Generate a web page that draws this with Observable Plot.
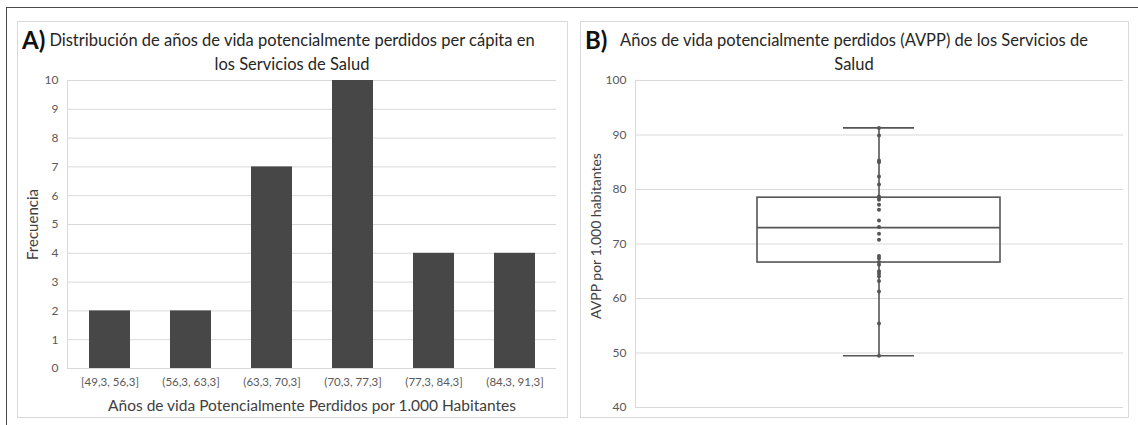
<!DOCTYPE html>
<html>
<head>
<meta charset="utf-8">
<script src="https://cdn.jsdelivr.net/npm/d3@7"></script>
<script src="https://cdn.jsdelivr.net/npm/@observablehq/plot@0.6"></script>
<style>
  html, body { margin: 0; padding: 0; background: #fff; }
  body { width: 1138px; height: 425px; position: relative; overflow: hidden; font-family: Lato, "Open Sans", sans-serif; }
  .outer { position: absolute; left: 6px; top: 7px; width: 1140px; height: 430px; border-top: 1.5px solid #4a4a4a; border-left: 1.5px solid #4a4a4a; }
  .frame { position: absolute; border: 1px solid #d9d9d9; box-sizing: border-box; }
  .abs { position: absolute; }
  .letter { position: absolute; font-weight: bold; font-size: 24px; line-height: 26px; color: #111; }
  .title { position: absolute; font-size: 16.5px; line-height: 24px; text-align: center; color: #262626; white-space: nowrap; }
</style>
</head>
<body>
<div class="outer"></div>
<div class="frame" style="left:17px; top:21px; width:551px; height:397px;"></div>
<div class="frame" style="left:580px; top:21px; width:549px; height:397px;"></div>
<div id="plotA" class="abs" style="left:0; top:0;"></div>
<div id="plotB" class="abs" style="left:570px; top:0;"></div>
<div class="letter" style="left:22px; top:27px;">A)</div>
<div class="title" style="left:46px; top:28px; width:492px;">Distribución de años de vida potencialmente perdidos per cápita en<br>los Servicios de Salud</div>
<div class="letter" style="left:585px; top:27px;">B)</div>
<div class="title" style="left:620px; top:28px; width:468px;">Años de vida potencialmente perdidos (AVPP) de los Servicios de<br>Salud</div>
<script>
// ---- Data ----
const bins = ["[49,3, 56,3]", "(56,3, 63,3]", "(63,3, 70,3]", "(70,3, 77,3]", "(77,3, 84,3]", "(84,3, 91,3]"];
const frequencies = [2, 2, 7, 10, 4, 4];
const freqTicks = [0, 1, 2, 3, 4, 5, 6, 7, 8, 9, 10];

const avppTicks = [40, 50, 60, 70, 80, 90, 100];
const avppValues = [91.3, 89.9, 85.3, 85.0, 82.4, 80.9, 78.7, 78.5, 78.1, 77.2, 76.3, 74.3, 73.1,
  71.9, 70.8, 67.8, 67.4, 66.7, 66.2, 65.0, 64.6, 64.1, 63.2, 61.3, 55.4, 49.5];
const boxNames = ["min", "q1", "median", "q3", "max"];
const boxValues = [49.5, 66.6, 73.0, 78.5, 91.3];
const groupName = "AVPP";

// ---- Derived tables ----
const histData = bins.map((b, i) => ({bin: b, freq: frequencies[i]}));
const summary = [Object.fromEntries([["name", groupName], ...boxNames.map((n, i) => [n, boxValues[i]])])];

const grid = "#d9d9d9";
const textColor = "#595959";
const axisTitle = "#404040";

// ---- Panel A: histogram ----
const plotA = Plot.plot({
  width: 570,
  height: 425,
  marginLeft: 67,
  marginRight: 14,
  marginTop: 80,
  marginBottom: 57,
  style: {fontFamily: "Lato, 'Open Sans', sans-serif", fontSize: "12px", color: textColor, background: "transparent"},
  x: {domain: bins, paddingInner: 0.5, paddingOuter: 0.25},
  y: {domain: [0, 10]},
  marks: [
    Plot.gridY(freqTicks, {stroke: grid, strokeOpacity: 1}),
    Plot.frame({anchor: "left", stroke: grid}),
    Plot.barY(histData, {x: "bin", y: "freq", fill: "#474747"}),
    Plot.axisX({tickSize: 0, tickPadding: 9, fontSize: 11.5, label: "Años de vida Potencialmente Perdidos por 1.000 Habitantes", labelAnchor: "center", labelArrow: "none", labelOffset: 42}),
    Plot.axisY(freqTicks, {tickSize: 0, tickPadding: 9, fontSize: 12, label: "Frecuencia", labelAnchor: "center", labelArrow: "none", labelOffset: 40})
  ]
});
document.getElementById("plotA").appendChild(plotA);

// ---- Panel B: box plot ----
const plotB = Plot.plot({
  width: 568,
  height: 425,
  marginLeft: 65,
  marginRight: 15,
  marginTop: 80,
  marginBottom: 18,
  style: {fontFamily: "Lato, 'Open Sans', sans-serif", fontSize: "12px", color: textColor, background: "transparent"},
  x: {domain: [groupName], padding: 1 / 3, axis: null},
  y: {domain: [40, 100]},
  marks: [
    Plot.gridY(avppTicks, {stroke: grid, strokeOpacity: 1}),
    Plot.frame({anchor: "left", stroke: grid}),
    Plot.ruleX(summary, {x: "name", y1: "max", y2: "q3", stroke: "#555", strokeWidth: 1.6}),
    Plot.ruleX(summary, {x: "name", y1: "q1", y2: "min", stroke: "#555", strokeWidth: 1.6}),
    Plot.tickY(summary, {x: "name", y: "max", stroke: "#555", strokeWidth: 1.6, insetLeft: 86, insetRight: 86}),
    Plot.tickY(summary, {x: "name", y: "min", stroke: "#555", strokeWidth: 1.6, insetLeft: 86, insetRight: 86}),
    Plot.barY(summary, {x: "name", y1: "q1", y2: "q3", fill: "none", stroke: "#555", strokeWidth: 1.6}),
    Plot.tickY(summary, {x: "name", y: "median", stroke: "#555", strokeWidth: 1.6}),
    Plot.dot(avppValues, {x: () => groupName, y: d => d, r: 2, fill: "#555", stroke: "none"}),
    Plot.axisY(avppTicks, {tickSize: 0, tickPadding: 9, fontSize: 12, label: "AVPP por 1.000 habitantes", labelAnchor: "center", labelArrow: "none", labelOffset: 44})
  ]
});
document.getElementById("plotB").appendChild(plotB);

// size the axis titles
function styleLabels(svg, sizes, shifts) {
  for (const k of ["x", "y"]) {
    svg.querySelectorAll(`g[aria-label='${k}-axis label'] text`).forEach(t => {
      t.style.fontSize = sizes[k];
      t.style.fill = axisTitle;
      if (shifts[k]) {
        const tr = t.getAttribute("transform") || "";
        t.setAttribute("transform", tr + ` translate(${shifts[k]},0)`);
      }
    });
  }
}
styleLabels(plotA, {x: "15.5px", y: "15px"}, {});
styleLabels(plotB, {x: "14px", y: "14px"}, {y: 8});
</script>
</body>
</html>
